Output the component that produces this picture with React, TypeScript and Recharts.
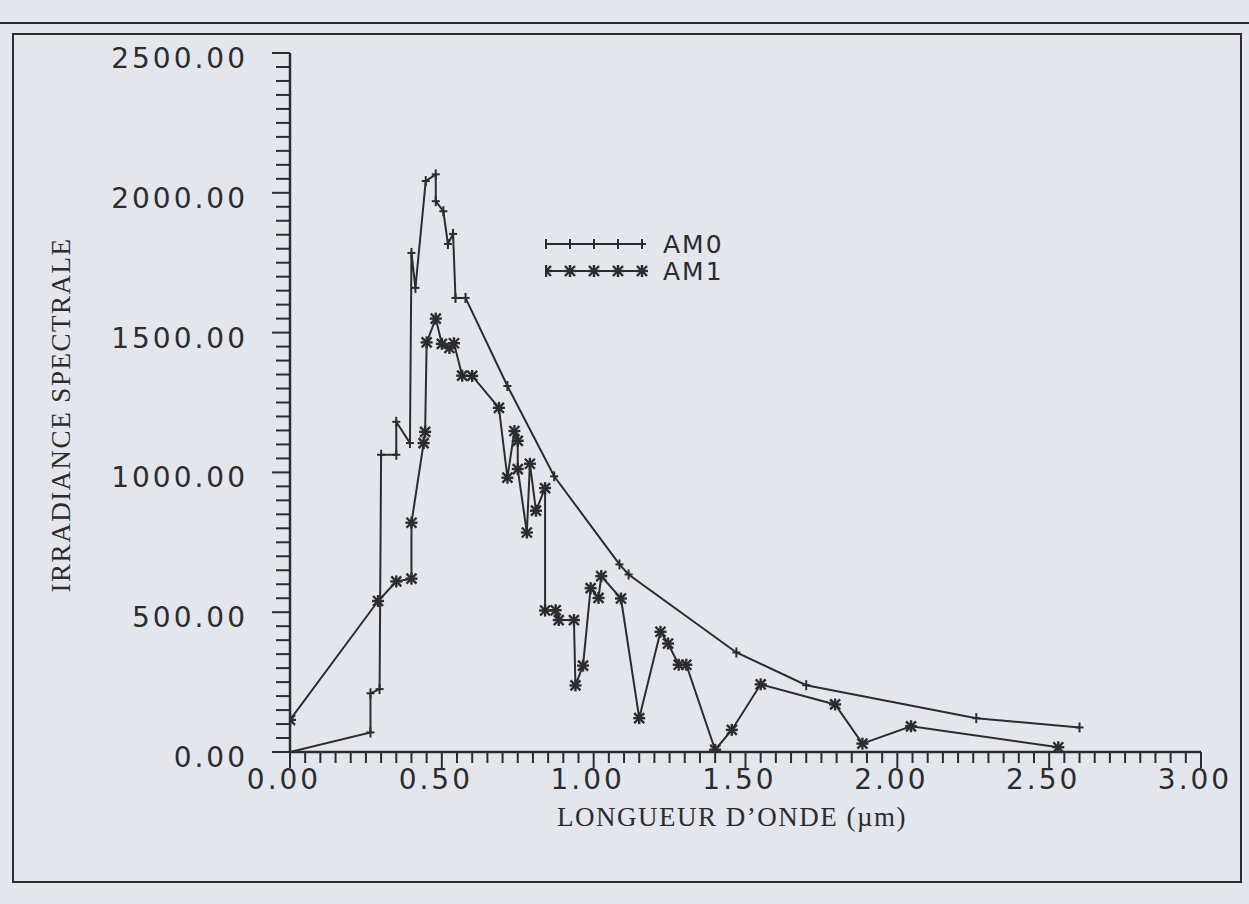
import React from 'react';
import { LineChart, Line, XAxis, YAxis } from 'recharts';

// AM0 spectrum (µm, W/m²/µm)
const am0Wavelength = [
  0, 0.265, 0.265, 0.295, 0.3, 0.35, 0.35, 0.395, 0.4, 0.413, 0.447, 0.48, 0.48,
  0.505, 0.52, 0.537, 0.545, 0.578, 0.716, 0.87, 1.085, 1.115, 1.47, 1.7, 2.26, 2.6,
];
const am0Irradiance = [
  0, 70, 210, 225, 1063, 1063, 1181, 1105, 1785, 1660, 2042, 2066, 1970,
  1934, 1817, 1853, 1624, 1624, 1309, 986, 671, 635, 356, 239, 121, 88,
];

// AM1 spectrum
const am1Wavelength = [
  0, 0.29, 0.35, 0.4, 0.4, 0.44, 0.445, 0.45, 0.48, 0.5, 0.525, 0.54, 0.567, 0.6,
  0.688, 0.716, 0.739, 0.75, 0.75, 0.78, 0.79, 0.81, 0.84, 0.84, 0.875, 0.885,
  0.935, 0.94, 0.965, 0.99, 1.016, 1.025, 1.09, 1.15, 1.22, 1.245, 1.28, 1.305,
  1.4, 1.455, 1.55, 1.795, 1.885, 2.045, 2.53,
];
const am1Irradiance = [
  115, 540, 610, 620, 820, 1105, 1145, 1465, 1550, 1460, 1445, 1462, 1346, 1345,
  1231, 981, 1148, 1113, 1012, 785, 1031, 863, 944, 506, 507, 472,
  472, 238, 309, 586, 551, 629, 549, 121, 430, 388, 312, 312,
  8, 79, 242, 170, 30, 92, 17,
];

const seriesNames = ['AM0', 'AM1'];
const xMajorLabels = ['0.00', '0.50', '1.00', '1.50', '2.00', '2.50', '3.00'];
const yMajorLabels = ['0.00', '500.00', '1000.00', '1500.00', '2000.00', '2500.00'];

const am0Data = am0Wavelength.map((x, i) => ({ x, y: am0Irradiance[i] }));
const am1Data = am1Wavelength.map((x, i) => ({ x, y: am1Irradiance[i] }));

// minor ticks every 0.05 µm and every 50 units
const xTicks: number[] = [];
for (let i = 0; i <= 60; i++) xTicks.push(i / 20);
const yTicks: number[] = [];
for (let i = 0; i <= 50; i++) yTicks.push(i * 50);

const INK = '#2c2c2e';
const PAPER = '#e3e6ed';
const tickFont = { fontFamily: '"DejaVu Sans", sans-serif', fontSize: 28, letterSpacing: 3, fill: INK };
const titleFont = { fontFamily: '"Liberation Serif", serif', fontSize: 27, letterSpacing: 1.5, fill: INK };

const XTick = (props: any) => {
  const { x, y, payload } = props;
  const idx = Math.round(payload.value * 20);
  const major = idx % 10 === 0;
  return (
    <g>
      <line x1={x} x2={x} y1={y} y2={y + (major ? 16 : 11)} stroke={INK} strokeWidth={2} />
      {major && (
        <text x={x - 6} y={y + 37} textAnchor="middle" {...tickFont}>
          {xMajorLabels[idx / 10]}
        </text>
      )}
    </g>
  );
};

const YTick = (props: any) => {
  const { x, y, payload } = props;
  const idx = Math.round(payload.value / 50);
  const major = idx % 10 === 0;
  return (
    <g>
      <line x1={x} x2={x - (major ? 18 : 14)} y1={y} y2={y} stroke={INK} strokeWidth={2} />
      {major && (
        <text x={x - 42} y={y + 15} textAnchor="end" {...tickFont}>
          {yMajorLabels[idx / 10]}
        </text>
      )}
    </g>
  );
};

const PlusMark = ({ cx, cy }: { cx: number; cy: number }) => (
  <g stroke={INK} strokeWidth={2}>
    <line x1={cx} x2={cx} y1={cy - 5} y2={cy + 5} />
    <line x1={cx - 4} x2={cx + 4} y1={cy} y2={cy} />
  </g>
);

const StarMark = ({ cx, cy }: { cx: number; cy: number }) => (
  <g stroke={INK} strokeWidth={2.4}>
    <line x1={cx - 6} x2={cx + 6} y1={cy} y2={cy} />
    <line x1={cx} x2={cx} y1={cy - 6} y2={cy + 6} />
    <line x1={cx - 5} x2={cx + 5} y1={cy - 5} y2={cy + 5} />
    <line x1={cx - 5} x2={cx + 5} y1={cy + 5} y2={cy - 5} />
  </g>
);

const legendMarks = [0, 24, 48, 72, 96];

const LegendBox = () => (
  <svg width={220} height={64} style={{ position: 'absolute', left: 545, top: 228 }}>
    <line x1={1} x2={97} y1={16} y2={16} stroke={INK} strokeWidth={2} />
    {legendMarks.map((d) => (
      <PlusMark key={`l0-${d}`} cx={d + 1} cy={16} />
    ))}
    <text x={118} y={25} fontFamily='"DejaVu Sans", sans-serif' fontSize={25} letterSpacing={2} fill={INK}>
      {seriesNames[0]}
    </text>
    <line x1={1} x2={97} y1={43} y2={43} stroke={INK} strokeWidth={2} />
    {legendMarks.map((d) => (
      <StarMark key={`l1-${d}`} cx={d + 1} cy={43} />
    ))}
    <text x={118} y={52} fontFamily='"DejaVu Sans", sans-serif' fontSize={25} letterSpacing={2} fill={INK}>
      {seriesNames[1]}
    </text>
  </svg>
);

export default function App() {
  return (
    <div
      style={{
        position: 'absolute',
        left: 0,
        top: 0,
        width: 1249,
        height: 904,
        background: PAPER,
        overflow: 'hidden',
      }}
    >
      <LineChart width={1249} height={904} margin={{ top: 53, right: 48, bottom: 92, left: 90 }}>
        <XAxis
          dataKey="x"
          type="number"
          domain={[0, 3]}
          ticks={xTicks}
          interval={0}
          height={60}
          tickSize={0}
          tickMargin={0}
          tickLine={false}
          axisLine={{ stroke: INK, strokeWidth: 2.5 }}
          tick={<XTick />}
          allowDataOverflow
          label={{
            content: () => (
              <text x={732} y={826} textAnchor="middle" {...titleFont}>
                LONGUEUR D’ONDE (µm)
              </text>
            ),
          }}
        />
        <YAxis
          dataKey="y"
          type="number"
          domain={[0, 2500]}
          ticks={yTicks}
          interval={0}
          width={200}
          tickSize={0}
          tickMargin={0}
          tickLine={false}
          axisLine={{ stroke: INK, strokeWidth: 2.5 }}
          tick={<YTick />}
          allowDataOverflow
          label={{
            content: () => (
              <text
                x={70}
                y={415}
                textAnchor="middle"
                transform="rotate(-90 70 415)"
                {...titleFont}
              >
                IRRADIANCE SPECTRALE
              </text>
            ),
          }}
        />
        <Line
          data={am0Data}
          dataKey="y"
          name={seriesNames[0]}
          type="linear"
          stroke={INK}
          strokeWidth={2}
          isAnimationActive={false}
          dot={(p: any) => <PlusMark key={`am0-${p.index}`} cx={p.cx} cy={p.cy} />}
          activeDot={false}
        />
        <Line
          data={am1Data}
          dataKey="y"
          name={seriesNames[1]}
          type="linear"
          stroke={INK}
          strokeWidth={2}
          isAnimationActive={false}
          dot={(p: any) => <StarMark key={`am1-${p.index}`} cx={p.cx} cy={p.cy} />}
          activeDot={false}
        />
      </LineChart>
      <LegendBox />
      {/* scanned frame around the figure */}
      <div style={{ position: 'absolute', left: 0, top: 22, width: 1249, height: 0, borderTop: `2px solid ${INK}` }} />
      <div
        style={{
          position: 'absolute',
          left: 12,
          top: 33,
          width: 1226,
          height: 846,
          border: `2px solid ${INK}`,
          pointerEvents: 'none',
        }}
      />
    </div>
  );
}
